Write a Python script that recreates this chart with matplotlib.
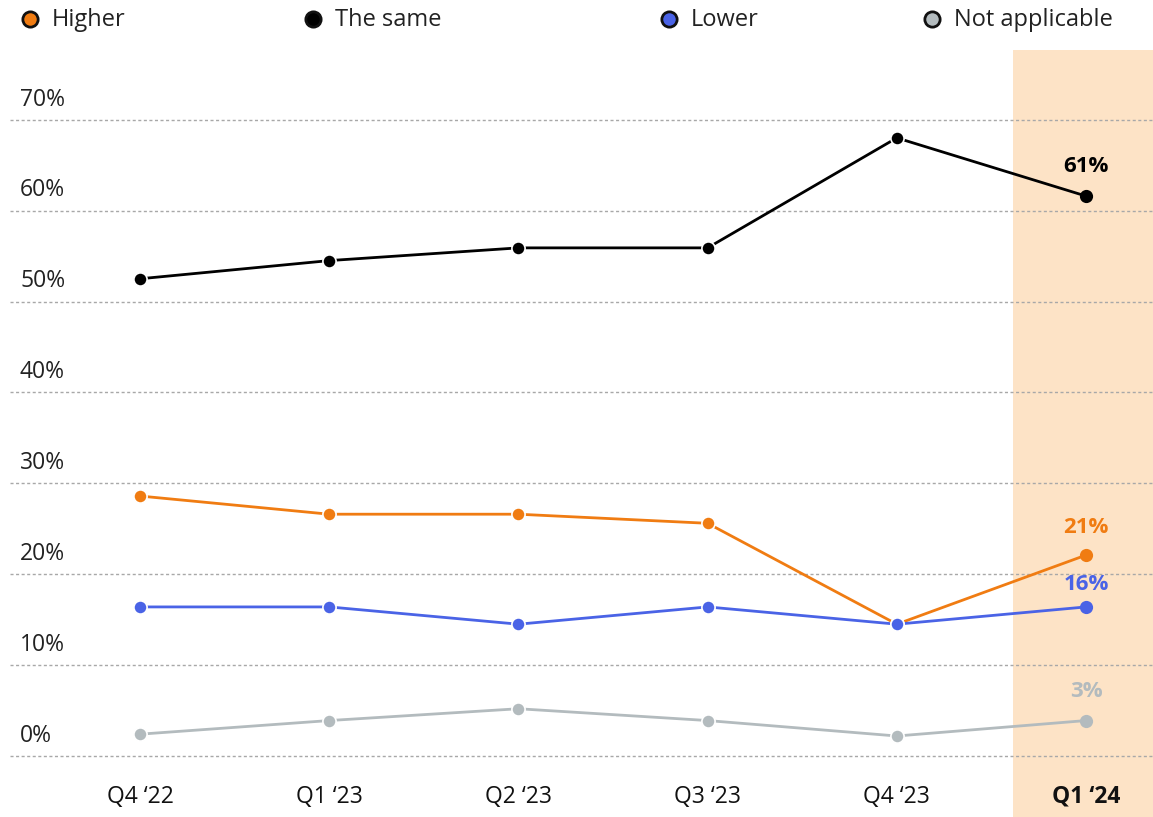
import matplotlib.pyplot as plt
from matplotlib.lines import Line2D

plt.rcParams["font.family"] = ["Open Sans", "DejaVu Sans"]

quarters = ["Q4 \u201822", "Q1 \u201823", "Q2 \u201823", "Q3 \u201823", "Q4 \u201823", "Q1 \u201824"]
higher = [28.6, 26.6, 26.6, 25.6, 14.5, 22.1]
same = [52.5, 54.5, 55.9, 55.9, 68.0, 61.6]
lower = [16.4, 16.4, 14.5, 16.4, 14.5, 16.4]
not_applicable = [2.4, 3.9, 5.2, 3.9, 2.2, 3.9]
last_labels = ["21%", "61%", "16%", "3%"]

series_names = ["Higher", "The same", "Lower", "Not applicable"]
colors = ["#f07c12", "#000000", "#4a63e6", "#b3bbbe"]
series = [higher, same, lower, not_applicable]

W, H = 1153, 817
fig = plt.figure(figsize=(W / 100, H / 100), dpi=100)
ax = fig.add_axes([10 / W, 0, 1 - 10 / W, 767 / H])

x = list(range(len(quarters)))
px = 189.2  # pixels per category
ax.set_xlim(-130 / px, 5 + 67 / px)
ax.set_ylim(-61 / 9.09, (756 - 50) / 9.09)

# highlight latest quarter
ax.axvspan(5 - 73 / px, 5 + 67 / px, color="#fde3c6", lw=0, zorder=0)

for yv in range(0, 80, 10):
    ax.axhline(yv, color="#a8a8a8", lw=1, ls=(0, (2.2, 1.8)), zorder=1)
    ax.text(10 / 1143, yv + 0.9, f"{yv}%", transform=ax.get_yaxis_transform(),
            fontsize=16.5, color="#222222", va="bottom", ha="left")

for vals, c in zip(series, colors):
    ax.plot(x, vals, color=c, lw=2, zorder=3)
    ax.plot(x[:-1], vals[:-1], "o", color=c, ms=9.5, mec="white", mew=1.2, zorder=4)
    ax.plot(x[-1], vals[-1], "o", color=c, ms=9.5, mec=c, mew=0, zorder=4)

offsets = [20, 21, 16, 21]
for vals, c, lab, off in zip(series, colors, last_labels, offsets):
    ax.annotate(lab, (x[-1], vals[-1]), xytext=(0, off), textcoords="offset points",
                ha="center", va="center", fontsize=16, fontweight="bold", color=c)

for i, q in enumerate(quarters):
    ax.text(i, -4.5, q, ha="center", va="center", fontsize=16.5,
            fontweight="bold" if i == len(quarters) - 1 else "normal", color="#111111")

for s in ax.spines.values():
    s.set_visible(False)
ax.set_xticks([])
ax.set_yticks([])

# legend row
leg_x = [30, 313, 669, 932]
for lx, name, c in zip(leg_x, series_names, colors):
    fig.add_artist(Line2D([lx / W], [1 - 19 / H], marker="o", ms=11, mfc=c, mec="#111111",
                          mew=2, ls="none", transform=fig.transFigure))
    fig.text((lx + 22) / W, 1 - 20 / H, name, fontsize=17, color="#222222",
             va="center", ha="left")

fig.savefig("out.png", dpi=100)
